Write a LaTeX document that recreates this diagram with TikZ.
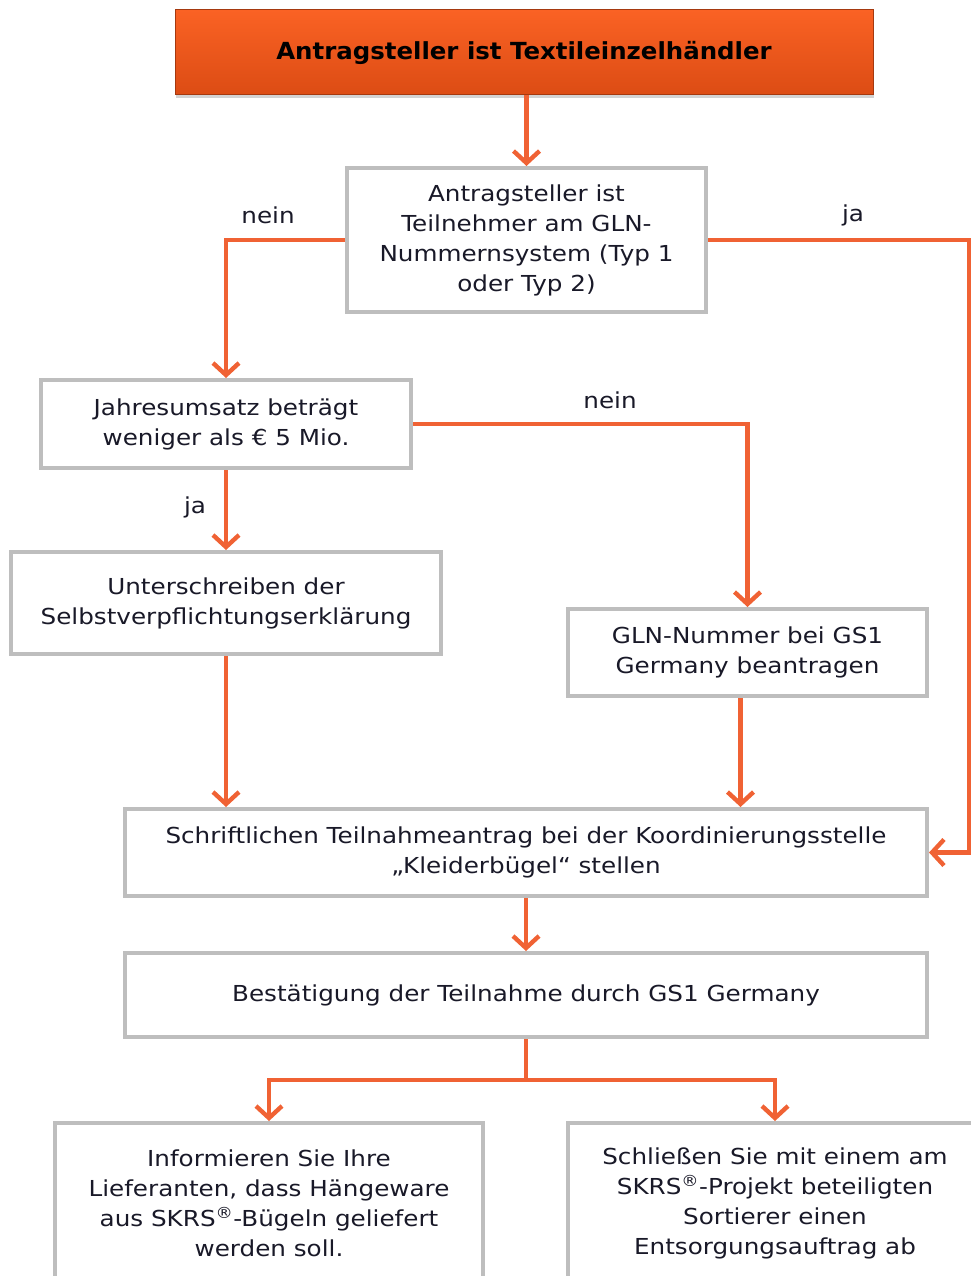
\documentclass[tikz,border=0pt]{standalone}
\usepackage{fontspec}
\setmainfont{DejaVu Sans}[FakeStretch=1.12]
\newfontfamily\topbold{DejaVu Sans Bold}[FakeStretch=1.04]
\usetikzlibrary{arrows.meta,shadows}
\definecolor{arrcol}{RGB}{240,98,52}
\definecolor{boxgray}{RGB}{190,190,190}
\definecolor{txtcol}{RGB}{25,25,40}
\definecolor{toptop}{RGB}{250,98,36}
\definecolor{topbot}{RGB}{220,76,20}
\begin{document}
\begin{tikzpicture}[x=1pt,y=-1pt,
  every node/.style={text=txtcol, font=\fontsize{22}{30}\selectfont},
  flowbox/.style={draw=boxgray, line width=4pt, fill=white, align=center, inner sep=0pt},
  arr/.style={draw=arrcol, line width=4.4pt, -{Straight Barb[length=12pt,width=26pt,line width=4.4pt]}},
  ln/.style={draw=arrcol, line width=4.4pt},
  lbl/.style={inner sep=0pt}
]
\useasboundingbox (0,0) rectangle (971,1276);
\clip (0,0) rectangle (971,1276);
% top box
\node[draw=topbot!75!black, line width=1pt, top color=toptop, bottom color=topbot,
  minimum width=698pt, minimum height=85pt, inner sep=0pt,
  drop shadow={shadow xshift=1pt, shadow yshift=-3pt, opacity=0.35},
  font=\topbold\fontsize{23.5}{26}\selectfont, text=black] (b1) at (524,52.5) {Antragsteller ist Textileinzelhändler};
% boxes
\node[flowbox, minimum width=359pt, minimum height=144pt] (b2) at (526.5,240) {Antragsteller ist\\Teilnehmer am GLN-\\Nummernsystem (Typ 1\\oder Typ 2)};
\node[flowbox, minimum width=370pt, minimum height=88pt] (b3) at (226,424) {Jahresumsatz beträgt\\weniger als € 5 Mio.};
\node[flowbox, minimum width=430pt, minimum height=102pt] (b4) at (226,603) {Unterschreiben der\\Selbstverpflichtungserklärung};
\node[flowbox, minimum width=359pt, minimum height=87pt] (b5) at (747.5,652.5) {GLN-Nummer bei GS1\\Germany beantragen};
\node[flowbox, minimum width=802pt, minimum height=87pt] (b6) at (526,852.5) {Schriftlichen Teilnahmeantrag bei der Koordinierungsstelle\\„Kleiderbügel“ stellen};
\node[flowbox, minimum width=802pt, minimum height=84pt] (b7) at (526,995) {Bestätigung der Teilnahme durch GS1 Germany};
\node[flowbox, minimum width=428pt, minimum height=160pt] (b8) at (269,1203) {Informieren Sie Ihre\\Lieferanten, dass Hängeware\\aus SKRS\textsuperscript{®}-Bügeln geliefert\\werden soll.};
\node[flowbox, minimum width=414pt, minimum height=160pt] (b9) at (775,1203) {Schließen Sie mit einem am\\SKRS\textsuperscript{®}-Projekt beteiligten\\Sortierer einen\\Entsorgungsauftrag ab};
% coordinates
\coordinate (rj) at (969,240);
\coordinate (sp) at (526,1080);
% connectors
\draw[arr] (b1.south -| b2.north) -- (b2.north);
\draw[arr] (b2.west) -| (b3.north);
\draw[arr] (b2.east) -- (rj) |- (b6.east);
\draw[arr] (b3.east) -| (b5.north);
\draw[arr] (b3.south) -- (b4.north);
\draw[arr] (b4.south) -- (b4.south |- b6.north);
\draw[arr] ([xshift=-7pt]b5.south) -- ([xshift=-7pt]b5.south |- b6.north);
\draw[arr] (b6.south) -- (b7.north);
\draw[ln] (b7.south) -- (sp);
\draw[arr] (sp) -| (b8.north);
\draw[arr] (sp) -| (b9.north);
% labels
\node[lbl] (l1) at (268,215) {nein};
\node[lbl] (l2) at (853,215) {ja};
\node[lbl] (l3) at (610,400) {nein};
\node[lbl] (l4) at (195,507) {ja};
\end{tikzpicture}
\end{document}
